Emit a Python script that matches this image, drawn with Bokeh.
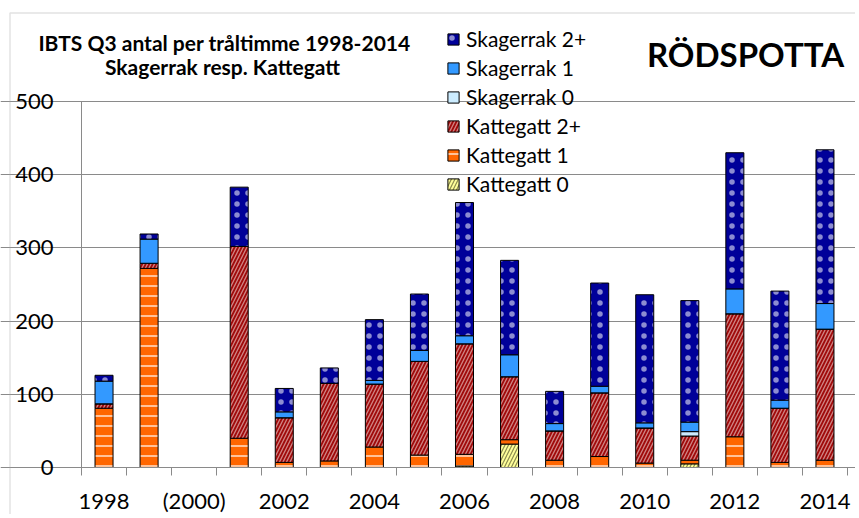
from bokeh.plotting import figure
from bokeh.models import (Range1d, FixedTicker, Legend, LegendItem, Label,
                          ColumnDataSource, LinearAxis, BoxAnnotation)
from bokeh.embed import file_html
from bokeh.resources import INLINE

# ---- data ----
years = [1998, 1999, 2001, 2002, 2003, 2004, 2005, 2006, 2007, 2008,
         2009, 2010, 2011, 2012, 2013, 2014]
kattegatt_0 = [0, 0, 0, 0, 0, 0, 0, 2, 32, 0, 0, 0, 5, 0, 0, 0]
kattegatt_1 = [81, 272, 40, 7, 9, 28, 17, 16, 6, 10, 15, 6, 5, 42, 7, 10]
kattegatt_2p = [6, 7, 262, 61, 106, 86, 128, 151, 86, 40, 87, 48, 33, 168, 74, 179]
skagerrak_0 = [0, 0, 0, 0, 0, 0, 0, 0, 0, 0, 0, 0, 6, 0, 0, 0]
skagerrak_1 = [31, 33, 0, 8, 0, 5, 15, 11, 30, 10, 9, 7, 13, 34, 11, 35]
skagerrak_2p = [8, 7, 81, 32, 21, 83, 77, 182, 129, 44, 141, 175, 166, 186, 149, 210]

series_names = ["Kattegatt 0", "Kattegatt 1", "Kattegatt 2+",
                "Skagerrak 0", "Skagerrak 1", "Skagerrak 2+"]
tick_years = [1998, 2000, 2002, 2004, 2006, 2008, 2010, 2012, 2014]
tick_labels = ["1998", "(2000)", "2002", "2004", "2006", "2008", "2010", "2012", "2014"]
y_ticks = [0, 100, 200, 300, 400, 500]

title_1 = "IBTS Q3 antal per tråltimme 1998-2014"
title_2 = "Skagerrak resp. Kattegatt"
species = "RÖDSPOTTA"

FONT = "Lato"
GRID = "#8a8a8a"

# ---- layout geometry (pixels) ----
W, H = 855, 514
AX_L, AX_R, AX_T, AX_B = 81, 847, 101, 467      # plotting area of the original chart
X0, X1 = 1997.5, 2014.5
Y0, Y1 = 0, 500
sx = (AX_R - AX_L) / (X1 - X0)
sy = (AX_B - AX_T) / (Y1 - Y0)
x_start = X0 - AX_L / sx
x_end = x_start + W / sx
y_start = Y0 - (H - AX_B) / sy
y_end = y_start + H / sy


def px_to_x(px):
    return x_start + px / sx


def py_to_y(py):
    return y_start + (H - py) / sy


src = ColumnDataSource(dict(year=years, k0=kattegatt_0, k1=kattegatt_1,
                            k2=kattegatt_2p, s0=skagerrak_0, s1=skagerrak_1,
                            s2=skagerrak_2p))
stackers = ["k0", "k1", "k2", "s0", "s1", "s2"]

p = figure(width=W, height=H, output_backend="svg", toolbar_location=None,
           x_range=Range1d(x_start, x_end), y_range=Range1d(y_start, y_end),
           x_axis_location=None, y_axis_location=None,
           min_border=0)
p.outline_line_color = None

# chart-area border (top and left edges visible in the original)
p.add_layout(BoxAnnotation(left=px_to_x(9.5), right=px_to_x(W + 6),
                           top=py_to_y(12.5), bottom=py_to_y(H + 6),
                           fill_alpha=0, line_color="#a0a0a0", line_width=1.5))

renderers = p.vbar_stack(
    stackers, x="year", width=0.4, source=src,
    fill_color=["#FFFF99", "#FF6600", "#A00A0A", "#CCECFF", "#3399FF", "#000099"],
    line_color="black", line_width=1,
    hatch_pattern=["/", "-", "/", " ", " ", "."],
    hatch_color=["#6E6E3C", "white", "white", "white", "white", "white"],
    hatch_alpha=[0.8, 0.6, 0.5, 1.0, 1.0, 0.55],
    hatch_scale=[7, 10, 7, 8, 8, 11],
    hatch_weight=[1.2, 2.0, 1.3, 1, 1, 1],
)

# axes drawn at fixed locations inside the canvas
yaxis = LinearAxis(fixed_location=X0, bounds=(Y0, Y1),
                   ticker=FixedTicker(ticks=y_ticks))
yaxis.axis_line_color = GRID
yaxis.major_tick_line_color = GRID
yaxis.major_tick_out = 8
yaxis.major_tick_in = 0
yaxis.minor_tick_line_color = None
yaxis.major_label_standoff = 20
yaxis.major_label_text_font = FONT
yaxis.major_label_text_font_size = "22px"
yaxis.major_label_text_color = "black"
p.add_layout(yaxis, "left")

xaxis = LinearAxis(fixed_location=Y0, bounds=(X0, X1),
                   ticker=FixedTicker(ticks=tick_years,
                                      minor_ticks=[X0 + i for i in range(18)]))
xaxis.major_label_overrides = {y: l for y, l in zip(tick_years, tick_labels)}
xaxis.axis_line_color = GRID
xaxis.major_tick_line_color = None
xaxis.major_tick_out = 0
xaxis.major_tick_in = 0
xaxis.minor_tick_line_color = GRID
xaxis.minor_tick_out = 8
xaxis.minor_tick_in = 0
xaxis.major_label_standoff = 11
xaxis.major_label_text_font = FONT
xaxis.major_label_text_font_size = "22px"
xaxis.major_label_text_color = "black"
p.add_layout(xaxis, "below")

p.xgrid.grid_line_color = None
p.ygrid.grid_line_color = GRID
p.ygrid.ticker = FixedTicker(ticks=y_ticks)
p.ygrid.bounds = (X0, X1)

items = [LegendItem(label=n, renderers=[r]) for n, r in zip(series_names, renderers)]
legend = Legend(items=list(reversed(items)), location=(446, H - 196),
                glyph_width=14, glyph_height=14, label_height=24, spacing=4,
                padding=0, margin=0, label_standoff=6,
                label_text_font=FONT, label_text_font_size="21px",
                label_text_color="black",
                background_fill_alpha=0, border_line_color=None)
p.add_layout(legend, "center")

# titles
for txt, cx, cy, size in [(title_1, 224, 42, "21px"), (title_2, 222, 66, "21px"),
                          (species, 745, 53, "33px")]:
    p.add_layout(Label(x=px_to_x(cx), y=py_to_y(cy), text=txt, text_align="center",
                       text_baseline="middle", text_font=FONT, text_font_style="bold",
                       text_font_size=size, text_color="black"))

open("out.html", "w").write(file_html(p, INLINE))
